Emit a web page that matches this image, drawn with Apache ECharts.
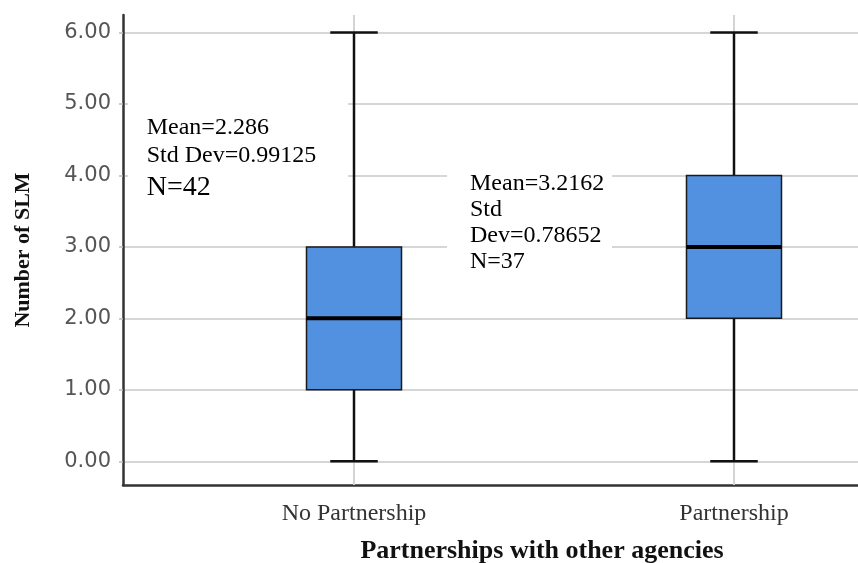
<!DOCTYPE html>
<html>
<head>
<meta charset="utf-8">
<script src="https://cdn.jsdelivr.net/npm/echarts@6/dist/echarts.min.js"></script>
<style>html,body{margin:0;padding:0;background:#fff;}#chart{width:858px;height:563px;}</style>
</head>
<body>
<div id="chart"></div>
<script>
const categories = ['No Partnership', 'Partnership'];
const whiskerLow = [0, 0];
const q1 = [1, 2];
const medians = [2, 3];
const q3 = [3, 4];
const whiskerHigh = [6, 6];
const yTickValues = [0, 1, 2, 3, 4, 5, 6];
const yAxisTitle = 'Number of SLM';
const xAxisTitle = 'Partnerships with other agencies';
const noteLeft = ['Mean=2.286', 'Std Dev=0.99125', 'N=42'];
const noteRight = ['Mean=3.2162', 'Std', 'Dev=0.78652', 'N=37'];

const boxData = categories.map((c, i) => [i, whiskerLow[i], q1[i], medians[i], q3[i], whiskerHigh[i]]);

const chart = echarts.init(document.getElementById('chart'), null, {renderer: 'canvas'});

const serif = 'Liberation Serif';
function noteText(x, yBase, text, size) {
  return {type: 'text', z: 101, x: x, y: yBase - 0.32 * size,
    style: {text: text, font: size + 'px "' + serif + '"', fill: '#000', verticalAlign: 'middle', align: 'left'}};
}

const option = {
  animation: false,
  backgroundColor: '#fff',
  grid: [
    {left: 123, top: 15, width: 745, height: 470, outerBoundsMode: 'none', containLabel: false},
    {left: 123, top: 32.5, width: 745, height: 428.8, outerBoundsMode: 'none', containLabel: false},
    {left: 164, top: 32.5, width: 760, height: 428.8, outerBoundsMode: 'none', containLabel: false}
  ],
  xAxis: [
    {gridIndex: 0, type: 'value', min: 0, max: 1, axisLine: {show: true, onZero: false, lineStyle: {color: '#333', width: 2.5}},
      axisTick: {show: false}, axisLabel: {show: false}, splitLine: {show: false}},
    {gridIndex: 1, type: 'value', min: 0, max: 1, show: false},
    {gridIndex: 2, type: 'category', data: categories, boundaryGap: true,
      axisLine: {show: false}, axisTick: {show: false}, splitLine: {show: false},
      axisLabel: {show: true, margin: 40, fontFamily: serif, fontSize: 24, color: '#333'}}
  ],
  yAxis: [
    {gridIndex: 0, type: 'value', min: 0, max: 1, axisLine: {show: true, onZero: false, lineStyle: {color: '#333', width: 2.5}},
      axisTick: {show: false}, axisLabel: {show: false}, splitLine: {show: false}},
    {gridIndex: 1, type: 'value', min: yTickValues[0], max: yTickValues[yTickValues.length - 1], interval: 1,
      axisLine: {show: false},
      axisTick: {show: true, length: 4, lineStyle: {color: '#bbb', width: 1.5}},
      axisLabel: {show: true, margin: 12, fontFamily: 'DejaVu Sans', fontSize: 21, color: '#555',
        formatter: v => v.toFixed(2)},
      splitLine: {show: true, lineStyle: {color: '#c8c8c8', width: 1.5}}},
    {gridIndex: 2, type: 'value', min: yTickValues[0], max: yTickValues[yTickValues.length - 1], show: false}
  ],
  series: [{
    type: 'custom',
    xAxisIndex: 2,
    yAxisIndex: 2,
    data: boxData,
    clip: false,
    z: 5,
    renderItem: function (params, api) {
      const x = api.value(0);
      const band = api.size([1, 0])[0];
      const bw = band * 0.25;
      const cw = bw / 2;
      const pLow = api.coord([x, api.value(1)]);
      const pQ1 = api.coord([x, api.value(2)]);
      const pMed = api.coord([x, api.value(3)]);
      const pQ3 = api.coord([x, api.value(4)]);
      const pHigh = api.coord([x, api.value(5)]);
      const pTop = api.coord([x, 6.245]);
      const pBot = api.coord([x, -0.33]);
      const cx = pLow[0];
      const wStyle = {stroke: '#111', lineWidth: 2.5};
      return {type: 'group', children: [
        {type: 'line', shape: {x1: cx, y1: pTop[1], x2: cx, y2: pBot[1]}, style: {stroke: '#d4d4d4', lineWidth: 2}},
        {type: 'line', shape: {x1: cx, y1: pHigh[1], x2: cx, y2: pQ3[1]}, style: wStyle},
        {type: 'line', shape: {x1: cx, y1: pQ1[1], x2: cx, y2: pLow[1]}, style: wStyle},
        {type: 'line', shape: {x1: cx - cw / 2, y1: pHigh[1], x2: cx + cw / 2, y2: pHigh[1]}, style: wStyle},
        {type: 'line', shape: {x1: cx - cw / 2, y1: pLow[1], x2: cx + cw / 2, y2: pLow[1]}, style: wStyle},
        {type: 'rect', shape: {x: cx - bw / 2, y: pQ3[1], width: bw, height: pQ1[1] - pQ3[1]},
          style: {fill: '#5290e0', stroke: '#1a1a1a', lineWidth: 1.5}},
        {type: 'line', shape: {x1: cx - bw / 2, y1: pMed[1], x2: cx + bw / 2, y2: pMed[1]}, style: {stroke: '#000', lineWidth: 4}}
      ]};
    }
  }],
  graphic: [
    {type: 'rect', z: 100, shape: {x: 128, y: 85, width: 220, height: 130}, style: {fill: '#fff'}},
    {type: 'rect', z: 100, shape: {x: 447, y: 160, width: 165, height: 120}, style: {fill: '#fff'}},
    noteText(146.7, 135.5, noteLeft[0], 24),
    noteText(146.7, 163, noteLeft[1], 24),
    noteText(146.7, 197, noteLeft[2], 28),
    noteText(470, 191, noteRight[0], 24),
    noteText(470, 217.5, noteRight[1], 24),
    noteText(470, 243.5, noteRight[2], 24),
    noteText(470, 269.5, noteRight[3], 24),
    {type: 'text', z: 101, x: 23, y: 250, rotation: Math.PI / 2,
      style: {text: yAxisTitle, font: 'bold 22px "' + serif + '"', fill: '#111', align: 'center', verticalAlign: 'middle'}},
    {type: 'text', z: 101, x: 542, y: 551,
      style: {text: xAxisTitle, font: 'bold 26px "' + serif + '"', fill: '#111', align: 'center', verticalAlign: 'middle'}}
  ]
};
chart.setOption(option);
</script>
</body>
</html>
